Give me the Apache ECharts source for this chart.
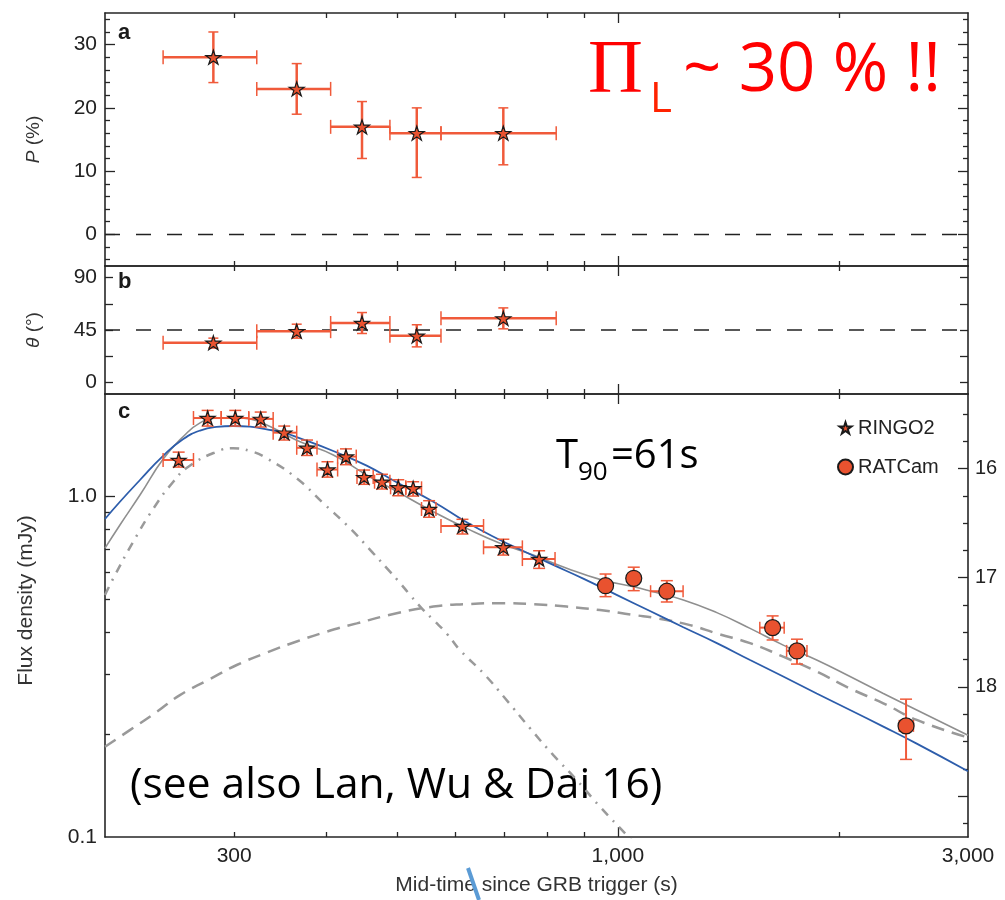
<!DOCTYPE html>
<html>
<head>
<meta charset="utf-8">
<script src="https://cdn.jsdelivr.net/npm/echarts@6/dist/echarts.min.js"></script>
<style>html,body{margin:0;padding:0;background:#fff}#chart{width:1005px;height:900px}</style>
</head>
<body>
<div id="chart"></div>
<script>
// ---------------- DATA ----------------
// Panel a/b : polarisation (RINGO2)
const polTime    = [281, 365, 448, 532, 698];
const polTimeLo  = [240, 322, 406, 489, 574];
const polTimeHi  = [322, 406, 489, 574, 824];
const polP       = [28, 23, 17, 16, 16];
const polPLo     = [24, 19, 12, 9, 11];
const polPHi     = [32, 27, 21, 20, 20];
const polTheta   = [34, 44, 51, 40, 55];
const polThetaLo = [29.5, 38, 42, 30.5, 46];
const polThetaHi = [38, 50, 60, 49.5, 64];
const refLevelP = 0;
const refLevelTheta = 45;

// Panel c : light curve
const ringoT   = [252, 276, 301, 326, 351, 377, 402, 426, 451, 477, 502, 526, 553, 614, 698, 781];
const ringoTLo = [240, 264, 288, 314, 339, 365, 389, 415, 441, 466, 490, 514, 540, 574, 656, 741];
const ringoTHi = [264, 288, 314, 339, 365, 389, 415, 440, 464, 489, 514, 540, 565, 656, 741, 821];
const ringoF   = [1.28, 1.70, 1.70, 1.69, 1.54, 1.39, 1.20, 1.31, 1.14, 1.105, 1.064, 1.057, 0.919, 0.819, 0.709, 0.655];
const ringoFLo = [1.22, 1.61, 1.61, 1.60, 1.465, 1.32, 1.14, 1.24, 1.086, 1.052, 1.005, 1.003, 0.869, 0.776, 0.673, 0.615];
const ringoFHi = [1.35, 1.79, 1.79, 1.77, 1.61, 1.465, 1.265, 1.38, 1.196, 1.162, 1.12, 1.105, 0.972, 0.857, 0.749, 0.693];

const ratT   = [962, 1051, 1166, 1625, 1754, 2470];
const ratTLo = [null, null, 1108, 1561, 1698, 2418];
const ratTHi = [null, null, 1227, 1685, 1810, 2528];
const ratF   = [0.547, 0.575, 0.527, 0.412, 0.352, 0.212];
const ratFLo = [0.508, 0.529, 0.490, 0.379, 0.322, 0.169];
const ratFHi = [0.592, 0.620, 0.566, 0.446, 0.381, 0.254];

// model curves [time (s), flux (mJy)]
const curveBlue = [[200,0.859],[209.6,0.965],[223.2,1.118],[240.2,1.319],[255.7,1.475],[269.5,1.562],[284,1.601],[299,1.611],[315.3,1.603],[332.2,1.575],[350,1.539],[368.9,1.482],[409.4,1.36],[454.6,1.232],[499.4,1.101],[560.4,0.965],[622.2,0.84],[690.8,0.745],[743,0.692],[808,0.636],[897,0.574],[996,0.514],[1106,0.461],[1228,0.413],[1364,0.371],[1514,0.331],[1680,0.296],[1866,0.264],[2072,0.236],[2300,0.211],[2554,0.188],[3000,0.156]];
const curveTotal = [[200,0.705],[209.6,0.825],[223.2,1.01],[240.2,1.29],[255.7,1.5],[269.5,1.645],[284,1.70],[299,1.705],[315.3,1.689],[332.2,1.622],[350,1.533],[368.9,1.448],[409.4,1.324],[454.6,1.157],[499.4,1.035],[560.4,0.902],[622.2,0.806],[690.8,0.729],[766.8,0.673],[851.6,0.616],[945,0.571],[1050,0.543],[1106,0.528],[1228,0.497],[1364,0.456],[1514,0.41],[1680,0.366],[1866,0.331],[2072,0.296],[2300,0.264],[2554,0.236],[3000,0.199]];
const curveForward = [[200,0.184],[216.2,0.206],[235.2,0.233],[253,0.261],[278,0.291],[302.4,0.32],[332.2,0.348],[365,0.375],[401,0.401],[440.6,0.424],[499.4,0.454],[560.4,0.475],[622.2,0.483],[690.8,0.486],[766.8,0.483],[851.6,0.475],[945.4,0.464],[1049.6,0.449],[1129.6,0.439],[1254,0.419],[1364,0.396],[1514,0.371],[1680,0.3385],[1866,0.306],[2072,0.273],[2300,0.247],[2554,0.2207],[3000,0.196]];
const curveReverse = [[200,0.514],[206.4,0.588],[218.6,0.737],[232.9,0.923],[247.8,1.105],[259.8,1.223],[284,1.354],[299,1.386],[315.3,1.36],[332.2,1.295],[365,1.131],[396.9,0.955],[431.6,0.806],[464.2,0.681],[484.2,0.616],[502,0.565],[520.8,0.514],[540.4,0.4695],[560.4,0.434],[584.4,0.396],[609.2,0.354],[655.6,0.3026],[701.8,0.2555],[759,0.2086],[816.6,0.174],[878.8,0.147],[945.4,0.1227],[1028,0.1014],[1060,0.095]];

// axes / ticks
const X_MIN = 200, X_MAX = 3000;
const xLabelValues = [300, 1000, 3000];
const xMajorTicks = [1000];
const xMinorTicks = [300, 400, 500, 600, 700, 800, 900, 2000];
const pRange = [-5, 35];
const pLabels = [0, 10, 20, 30];
const pMinorTicks = [-4,-2,2,4,6,8,12,14,16,18,22,24,26,28,32,34];
const thetaRange = [-10, 100];
const thetaLabels = [0, 45, 90];
const thetaTicks = [0, 22.5, 45, 67.5, 90];
const fluxRange = [0.1, 2.0];
const fluxLabels = [0.1, 1];
const fluxMajorTicks = [1];
const fluxMinorTicks = [0.2,0.3,0.4,0.5,0.6,0.7,0.8,0.9];
const magRange = [15.318, 19.375];
const magLabels = [16, 17, 18];
const magMajorTicks = [16, 17, 18, 19];
const magMinorTicks = [15.5,15.75,16.25,16.5,16.75,17.25,17.5,17.75,18.25,18.5,18.75,19.25];

// ---------------- STYLE ----------------
const FONT = "'Liberation Sans', Arial, Helvetica, sans-serif";
const AXC = '#262626';
const ERR = '#F05A3A';
const FILL = '#E9522F';
const STAR = 'path://M50,2 L61.2,36.6 L97.6,36.6 L68.2,58 L79.4,92.6 L50,71.2 L20.6,92.6 L31.8,58 L2.4,36.6 L38.8,36.6 Z';
const STAR_LEGEND = 'path://M-10,-12 M110,108 M50,2 L61.2,36.6 L97.6,36.6 L68.2,58 L79.4,92.6 L50,71.2 L20.6,92.6 L31.8,58 L2.4,36.6 L38.8,36.6 Z';

const grids = [
  {left:105, right:37, top:13, height:253},
  {left:105, right:37, top:266, height:128},
  {left:105, right:37, top:394, height:443}
];

const xAxes = [], yAxes = [];
function tickCfg(ticks, len){
  return {show:true, inside:true, length:len, customValues:ticks, lineStyle:{color:AXC, width:1.3}};
}
function addX(grid, pos, ticks, len, showLine, label, extra){
  xAxes.push(Object.assign({
    type:'log', logBase:10, gridIndex:grid, position:pos, min:X_MIN, max:X_MAX,
    axisLine:{show:showLine, onZero:false, lineStyle:{color:AXC, width:1.6}},
    axisTick:tickCfg(ticks, len),
    axisLabel: label || {show:false},
    splitLine:{show:false}, minorTick:{show:false}, minorSplitLine:{show:false}
  }, extra || {}));
  return xAxes.length - 1;
}
function addY(grid, pos, type, range, ticks, len, showLine, label, extra){
  yAxes.push(Object.assign({
    type:type, gridIndex:grid, position:pos, min:range[0], max:range[1],
    axisLine:{show:showLine, onZero:false, lineStyle:{color:AXC, width:1.6}},
    axisTick:tickCfg(ticks, len),
    axisLabel: label || {show:false},
    splitLine:{show:false}, minorTick:{show:false}, minorSplitLine:{show:false}
  }, extra || {}));
  return yAxes.length - 1;
}
const lblStyle = {color:'#222', fontSize:21, fontFamily:FONT};

// x axes for each grid
const xIdx = [];
for (let g = 0; g < 3; g++) {
  let lab = null, extra = null;
  if (g === 2) {
    lab = Object.assign({show:true, customValues:xLabelValues, margin:9,
      formatter: v => Math.round(v).toLocaleString('en-US')}, lblStyle);
    extra = {name:'Mid-time since GRB trigger (s)', nameLocation:'middle', nameGap:38,
      nameTextStyle:{color:'#333', fontSize:21, fontFamily:FONT}};
  }
  xIdx.push(addX(g, 'bottom', xMajorTicks, 10, true, lab, extra));
  addX(g, 'bottom', xMinorTicks, 5, false);
  addX(g, 'top', xMajorTicks, 10, true);
  addX(g, 'top', xMinorTicks, 5, false);
}

// y axes
const nameStyle = {color:'#333', fontSize:19, fontFamily:FONT, rich:{i:{fontStyle:'italic', color:'#333', fontSize:19, fontFamily:FONT}}};
const yA = addY(0, 'left', 'value', pRange, pLabels, 10, true,
  Object.assign({show:true, customValues:pLabels, margin:8}, lblStyle),
  {name:'{i|P} (%)', nameLocation:'middle', nameGap:62, nameTextStyle:nameStyle});
addY(0, 'left', 'value', pRange, pMinorTicks, 5, false);
addY(0, 'right', 'value', pRange, pLabels, 10, true);
addY(0, 'right', 'value', pRange, pMinorTicks, 5, false);

const yB = addY(1, 'left', 'value', thetaRange, thetaTicks, 8, true,
  Object.assign({show:true, customValues:thetaLabels, margin:8}, lblStyle),
  {name:'{i|θ} (°)', nameLocation:'middle', nameGap:62, nameTextStyle:nameStyle});
addY(1, 'right', 'value', thetaRange, thetaTicks, 8, true);

const yC = addY(2, 'left', 'log', fluxRange, fluxMajorTicks, 10, true,
  Object.assign({show:true, customValues:fluxLabels, margin:8,
    formatter: v => (Math.abs(v - 1) < 1e-6 ? '1.0' : String(Math.round(v * 10) / 10))}, lblStyle),
  {logBase:10, name:'Flux density (mJy)', nameLocation:'middle', nameGap:68,
   nameTextStyle:{color:'#333', fontSize:21, fontFamily:FONT, padding:[0, 0, 0, 30]}});
addY(2, 'left', 'log', fluxRange, fluxMinorTicks, 5, false, null, {logBase:10});
addY(2, 'right', 'value', magRange, magMajorTicks, 10, true,
  Object.assign({show:true, customValues:magLabels, margin:7}, lblStyle, {fontSize:20}), {inverse:true});
addY(2, 'right', 'value', magRange, magMinorTicks, 5, false, null, {inverse:true});

// ---------------- HELPERS ----------------
function zipErr(t, v, tl, th, vl, vh){
  return t.map((x, i) => [x, v[i], tl[i], th[i], vl[i], vh[i]]);
}
function errRender(capV, capH, lw){
  return function(params, api){
    const t = api.value(0), v = api.value(1);
    const tl = api.value(2), th = api.value(3), vl = api.value(4), vh = api.value(5);
    const c = api.coord([t, v]);
    const st = {stroke:ERR, lineWidth:lw};
    const cs = {stroke:ERR, lineWidth:1.5};
    const ch = [];
    if (isFinite(vl) && isFinite(vh)) {
      const a = api.coord([t, vl]), b = api.coord([t, vh]);
      ch.push({type:'line', shape:{x1:c[0], y1:a[1], x2:c[0], y2:b[1]}, style:st});
      ch.push({type:'line', shape:{x1:c[0]-capV, y1:a[1], x2:c[0]+capV, y2:a[1]}, style:cs});
      ch.push({type:'line', shape:{x1:c[0]-capV, y1:b[1], x2:c[0]+capV, y2:b[1]}, style:cs});
    }
    if (isFinite(tl) && isFinite(th) && tl > 0 && th > 0) {
      const a = api.coord([tl, v]), b = api.coord([th, v]);
      ch.push({type:'line', shape:{x1:a[0], y1:c[1], x2:b[0], y2:c[1]}, style:st});
      ch.push({type:'line', shape:{x1:a[0], y1:c[1]-capH, x2:a[0], y2:c[1]+capH}, style:cs});
      ch.push({type:'line', shape:{x1:b[0], y1:c[1]-capH, x2:b[0], y2:c[1]+capH}, style:cs});
    }
    return {type:'group', children:ch};
  };
}
function errSeries(xi, yi, data, capV, capH, lw){
  return {type:'custom', xAxisIndex:xi, yAxisIndex:yi, data:data, renderItem:errRender(capV, capH, lw),
    encode:{x:0, y:1}, z:3, silent:true};
}
function markers(name, xi, yi, t, v, symbol, size){
  return {type:'scatter', name:name, xAxisIndex:xi, yAxisIndex:yi, data:t.map((x, i) => [x, v[i]]),
    symbol:symbol, symbolSize:size, z:4,
    itemStyle:{color:FILL, borderColor:'#1a1a1a', borderWidth:1.2, opacity:1}};
}
function refLine(xi, yi, level){
  return {type:'line', xAxisIndex:xi, yAxisIndex:yi, data:[[X_MIN, level], [X_MAX, level]],
    symbol:'none', silent:true, z:2, lineStyle:{color:'#222', width:1.5, type:[15, 16]}};
}
function curve(data, color, width, dash){
  return {type:'line', xAxisIndex:xIdx[2], yAxisIndex:yC, data:data, symbol:'none', smooth:0.5,
    silent:true, z:2, clip:true, lineStyle:{color:color, width:width, type:dash || 'solid'}};
}

// ---------------- OPTION ----------------
const option = {
  animation:false,
  backgroundColor:'#ffffff',
  grid:grids,
  xAxis:xAxes,
  yAxis:yAxes,
  legend:{
    orient:'vertical', left:832, top:413, itemWidth:15, itemHeight:15, itemGap:19,
    textStyle:{color:'#222', fontSize:20, fontFamily:FONT},
    data:[{name:'RINGO2', icon:STAR_LEGEND}, {name:'RATCam', icon:'circle'}]
  },
  series:[
    refLine(xIdx[0], yA, refLevelP),
    errSeries(xIdx[0], yA, zipErr(polTime, polP, polTimeLo, polTimeHi, polPLo, polPHi), 5, 7, 2.5),
    markers('polP', xIdx[0], yA, polTime, polP, STAR, [15, 14]),
    refLine(xIdx[1], yB, refLevelTheta),
    errSeries(xIdx[1], yB, zipErr(polTime, polTheta, polTimeLo, polTimeHi, polThetaLo, polThetaHi), 5, 7, 2.5),
    markers('polTheta', xIdx[1], yB, polTime, polTheta, STAR, [15, 14]),
    curve(curveForward, '#999999', 2.5, [13, 8]),
    curve(curveReverse, '#9a9a9a', 2.5, [9, 7, 2, 7]),
    curve(curveTotal, '#8f8f8f', 1.6),
    curve(curveBlue, '#2D5DAB', 1.8),
    errSeries(xIdx[2], yC, zipErr(ringoT, ringoF, ringoTLo, ringoTHi, ringoFLo, ringoFHi), 6, 7, 2),
    errSeries(xIdx[2], yC, zipErr(ratT, ratF, ratTLo, ratTHi, ratFLo, ratFHi), 6, 6, 2),
    markers('RINGO2', xIdx[2], yC, ringoT, ringoF, STAR, [15, 14]),
    markers('RATCam', xIdx[2], yC, ratT, ratF, 'circle', 16)
  ],
  graphic:[
    {type:'text', left:118, top:22, style:{text:'a', font:"bold 22px 'Liberation Sans', Arial", fill:'#1a1a1a'}},
    {type:'text', left:118, top:271, style:{text:'b', font:"bold 22px 'Liberation Sans', Arial", fill:'#1a1a1a'}},
    {type:'text', left:118, top:401, style:{text:'c', font:"bold 22px 'Liberation Sans', Arial", fill:'#1a1a1a'}},
    {type:'text', x:588, y:72, style:{text:'Π', font:"76px 'Liberation Serif', 'DejaVu Serif', serif", fill:'#FF0000', align:'left', verticalAlign:'middle', textAlign:'left', textVerticalAlign:'middle'}},
    {type:'text', x:650, y:100, style:{text:'L', font:"42px 'Open Sans', sans-serif", fill:'#FF2200', align:'left', verticalAlign:'middle', textAlign:'left', textVerticalAlign:'middle'}},
    {type:'text', x:683, y:72, style:{text:'~ 30 % !!', font:"67px 'Open Sans', sans-serif", fill:'#FF0000', align:'left', verticalAlign:'middle', textAlign:'left', textVerticalAlign:'middle'}},
    {type:'text', x:556, y:457, style:{text:'T', font:"40px 'Open Sans', sans-serif", fill:'#000', align:'left', verticalAlign:'middle', textAlign:'left', textVerticalAlign:'middle'}},
    {type:'text', x:578, y:473, style:{text:'90', font:"26px 'Open Sans', sans-serif", fill:'#000', align:'left', verticalAlign:'middle', textAlign:'left', textVerticalAlign:'middle'}},
    {type:'text', x:611, y:457, style:{text:'=61s', font:"40px 'Open Sans', sans-serif", fill:'#000', align:'left', verticalAlign:'middle', textAlign:'left', textVerticalAlign:'middle'}},
    {type:'text', x:130, y:786, style:{text:'(see also Lan, Wu & Dai 16)', font:"42.5px 'Open Sans', sans-serif", fill:'#000', align:'left', verticalAlign:'middle', textAlign:'left', textVerticalAlign:'middle'}},
    {type:'line', shape:{x1:468, y1:868, x2:479, y2:900}, style:{stroke:'#5B9BD5', lineWidth:4}, z:10}
  ]
};

const chart = echarts.init(document.getElementById('chart'), null, {renderer:'canvas'});
chart.setOption(option);
</script>
</body>
</html>
